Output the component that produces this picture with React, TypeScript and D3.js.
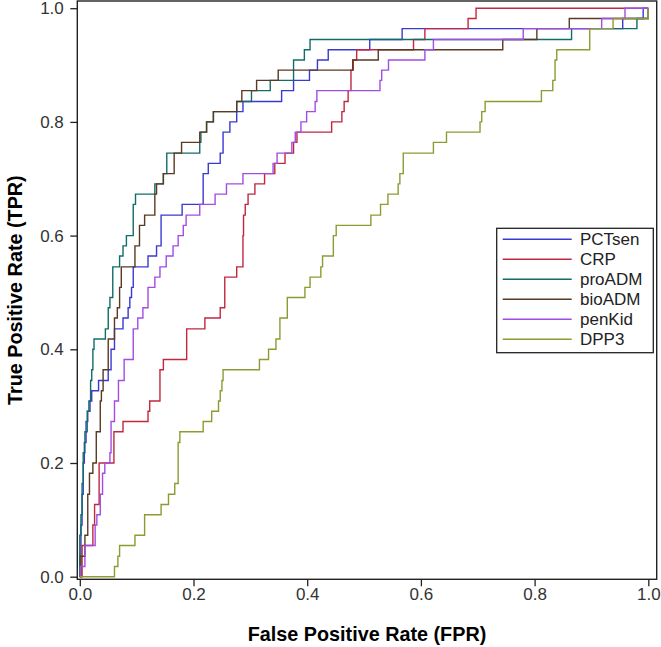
import React, { useRef, useEffect } from "react";
import * as d3 from "d3";

type Pt = [number, number];

// ROC points: [fpr, tpr], each point is the top of a vertical step
const pctsen: Pt[] = [
	[0, 0], [0.000, 0.036], [0.002, 0.091], [0.004, 0.145], [0.006, 0.200], [0.008, 0.236],
	[0.011, 0.273], [0.014, 0.291], [0.018, 0.309], [0.021, 0.327], [0.033, 0.345], [0.050, 0.364],
	[0.055, 0.400], [0.061, 0.436], [0.076, 0.455], [0.085, 0.473], [0.088, 0.491], [0.091, 0.509],
	[0.094, 0.545], [0.120, 0.564], [0.135, 0.582], [0.143, 0.636], [0.180, 0.655], [0.217, 0.709],
	[0.226, 0.727], [0.247, 0.745], [0.252, 0.782], [0.264, 0.800], [0.276, 0.818], [0.287, 0.836],
	[0.355, 0.855], [0.376, 0.873], [0.404, 0.891], [0.418, 0.909], [0.437, 0.927], [0.510, 0.945],
	[0.567, 0.964], [0.955, 0.982], [0.991, 1.000], [1, 1],
];

const crp: Pt[] = [
	[0, 0], [0.004, 0.055], [0.023, 0.091], [0.026, 0.127], [0.034, 0.200], [0.060, 0.255],
	[0.076, 0.273], [0.120, 0.291], [0.123, 0.309], [0.141, 0.364], [0.147, 0.382], [0.188, 0.436],
	[0.220, 0.455], [0.247, 0.473], [0.255, 0.527], [0.276, 0.545], [0.287, 0.600], [0.288, 0.636],
	[0.291, 0.655], [0.296, 0.673], [0.308, 0.691], [0.325, 0.709], [0.343, 0.727], [0.361, 0.745],
	[0.376, 0.764], [0.382, 0.782], [0.443, 0.800], [0.461, 0.818], [0.465, 0.836], [0.472, 0.855],
	[0.477, 0.891], [0.481, 0.909], [0.487, 0.927], [0.587, 0.945], [0.607, 0.964], [0.683, 0.982],
	[0.697, 1.000], [1, 1],
];

const proadm: Pt[] = [
	[0, 0], [0.000, 0.073], [0.002, 0.109], [0.004, 0.164], [0.006, 0.218], [0.009, 0.255],
	[0.013, 0.291], [0.016, 0.309], [0.019, 0.345], [0.021, 0.364], [0.023, 0.400], [0.025, 0.418],
	[0.045, 0.436], [0.050, 0.473], [0.053, 0.491], [0.058, 0.545], [0.070, 0.564], [0.076, 0.582],
	[0.082, 0.600], [0.094, 0.655], [0.098, 0.673], [0.132, 0.691], [0.147, 0.709], [0.153, 0.745],
	[0.211, 0.764], [0.213, 0.782], [0.223, 0.800], [0.235, 0.818], [0.276, 0.836], [0.302, 0.855],
	[0.335, 0.873], [0.376, 0.909], [0.395, 0.927], [0.405, 0.945], [0.865, 0.964], [0.980, 0.982],
	[1.000, 1.000], [1, 1],
];

const bioadm: Pt[] = [
	[0, 0], [0.002, 0.036], [0.009, 0.073], [0.014, 0.145], [0.017, 0.182], [0.023, 0.200],
	[0.029, 0.255], [0.036, 0.309], [0.038, 0.327], [0.041, 0.364], [0.050, 0.418], [0.061, 0.455],
	[0.066, 0.473], [0.070, 0.509], [0.073, 0.545], [0.097, 0.582], [0.105, 0.618], [0.114, 0.636],
	[0.132, 0.673], [0.135, 0.691], [0.147, 0.709], [0.166, 0.745], [0.179, 0.764], [0.211, 0.782],
	[0.223, 0.800], [0.235, 0.818], [0.276, 0.836], [0.285, 0.855], [0.311, 0.873], [0.349, 0.891],
	[0.480, 0.909], [0.525, 0.927], [0.744, 0.945], [0.804, 0.964], [0.861, 0.982], [1.000, 1.000],
	[1, 1],
];

const penkid: Pt[] = [
	[0, 0], [0.001, 0.018], [0.009, 0.055], [0.027, 0.091], [0.030, 0.109], [0.036, 0.145],
	[0.040, 0.182], [0.044, 0.200], [0.053, 0.218], [0.055, 0.273], [0.061, 0.309], [0.068, 0.345],
	[0.078, 0.382], [0.094, 0.436], [0.102, 0.455], [0.111, 0.473], [0.120, 0.509], [0.132, 0.527],
	[0.141, 0.545], [0.152, 0.564], [0.164, 0.582], [0.173, 0.600], [0.182, 0.618], [0.187, 0.636],
	[0.211, 0.655], [0.238, 0.673], [0.258, 0.691], [0.287, 0.709], [0.340, 0.727], [0.347, 0.745],
	[0.373, 0.764], [0.379, 0.782], [0.389, 0.800], [0.399, 0.818], [0.414, 0.836], [0.417, 0.855],
	[0.528, 0.873], [0.531, 0.891], [0.543, 0.909], [0.607, 0.927], [0.622, 0.945], [0.780, 0.964],
	[0.918, 0.982], [0.959, 1.000], [1, 1],
];

const dpp3: Pt[] = [
	[0, 0], [0.061, 0.018], [0.067, 0.036], [0.070, 0.055], [0.097, 0.073], [0.114, 0.109],
	[0.143, 0.127], [0.156, 0.145], [0.167, 0.164], [0.173, 0.236], [0.176, 0.255], [0.217, 0.273],
	[0.232, 0.291], [0.244, 0.309], [0.247, 0.327], [0.250, 0.345], [0.252, 0.364], [0.316, 0.382],
	[0.332, 0.400], [0.345, 0.418], [0.352, 0.455], [0.365, 0.491], [0.396, 0.509], [0.405, 0.527],
	[0.424, 0.545], [0.427, 0.564], [0.446, 0.600], [0.451, 0.618], [0.512, 0.636], [0.529, 0.655],
	[0.542, 0.673], [0.560, 0.691], [0.563, 0.709], [0.569, 0.745], [0.622, 0.764], [0.645, 0.782],
	[0.704, 0.800], [0.707, 0.818], [0.713, 0.836], [0.812, 0.855], [0.832, 0.873], [0.836, 0.909],
	[0.839, 0.927], [0.897, 0.964], [0.938, 0.982], [1.000, 1.000],
];

const seriesNames = ["PCTsen", "CRP", "proADM", "bioADM", "penKid", "DPP3"];
const seriesData = [pctsen, crp, proadm, bioadm, penkid, dpp3];
const seriesColors = ["#3a3ad2", "#c0283f", "#126d68", "#5a3a22", "#a24ce4", "#8f9a33"];
const tickValues = [0, 0.2, 0.4, 0.6, 0.8, 1.0];

const WIDTH = 661;
const HEIGHT = 647;
const FONT = "'Liberation Sans', Arial, sans-serif";

export default function App() {
	const svgRef = useRef<SVGSVGElement | null>(null);

	useEffect(() => {
		const frame = { left: 77.3, right: 656.7, top: 1, bottom: 579.3 };
		const x = d3.scaleLinear().domain([0, 1]).range([79.8, 648.3]);
		const y = d3.scaleLinear().domain([0, 1]).range([576.7, 8.2]);

		const svg = d3.select(svgRef.current);
		svg.selectAll("*").remove();

		const line = d3
			.line<Pt>()
			.x((d) => x(d[0]))
			.y((d) => y(d[1]))
			.curve(d3.curveStepAfter);

		svg
			.append("g")
			.selectAll("path")
			.data(seriesData)
			.enter()
			.append("path")
			.attr("d", (d) => line(d))
			.attr("fill", "none")
			.attr("stroke", (_, i) => seriesColors[i])
			.attr("stroke-width", 1.4);

		// frame
		svg
			.append("rect")
			.attr("x", frame.left)
			.attr("y", frame.top)
			.attr("width", frame.right - frame.left)
			.attr("height", frame.bottom - frame.top)
			.attr("fill", "none")
			.attr("stroke", "#222")
			.attr("stroke-width", 1.4);

		const xAxis = svg
			.append("g")
			.attr("transform", `translate(0,${frame.bottom})`)
			.call(
				d3
					.axisBottom(x)
					.tickValues(tickValues)
					.tickFormat(d3.format(".1f"))
					.tickSize(7)
					.tickPadding(2)
			);
		const yAxis = svg
			.append("g")
			.attr("transform", `translate(${frame.left},0)`)
			.call(
				d3
					.axisLeft(y)
					.tickValues(tickValues)
					.tickFormat(d3.format(".1f"))
					.tickSize(7)
					.tickPadding(6.5)
			);

		[xAxis, yAxis].forEach((g) => {
			g.select(".domain").remove();
			g.selectAll("line").attr("stroke", "#222").attr("stroke-width", 1.3);
			g.selectAll("text")
				.attr("fill", "#333")
				.style("font-family", FONT)
				.style("font-size", "17px");
		});

		svg
			.append("text")
			.attr("x", (frame.left + frame.right) / 2)
			.attr("y", 641)
			.attr("text-anchor", "middle")
			.style("font-family", FONT)
			.style("font-size", "19.8px")
			.style("font-weight", "bold")
			.text("False Positive Rate (FPR)");

		svg
			.append("text")
			.attr("transform", `translate(22,${(frame.top + frame.bottom) / 2}) rotate(-90)`)
			.attr("text-anchor", "middle")
			.style("font-family", FONT)
			.style("font-size", "19.8px")
			.style("font-weight", "bold")
			.text("True Positive Rate (TPR)");

		// legend
		const legend = svg.append("g").attr("transform", "translate(496.7,228.3)");
		legend
			.append("rect")
			.attr("width", 156.6)
			.attr("height", 124.4)
			.attr("fill", "white")
			.attr("stroke", "#222")
			.attr("stroke-width", 1.3);
		const items = legend
			.selectAll("g.item")
			.data(seriesNames)
			.enter()
			.append("g")
			.attr("class", "item")
			.attr("transform", (_, i) => `translate(0,${11 + i * 20})`);
		items
			.append("line")
			.attr("x1", 6)
			.attr("x2", 75)
			.attr("stroke", (_, i) => seriesColors[i])
			.attr("stroke-width", 1.4);
		items
			.append("text")
			.attr("x", 83.3)
			.attr("dy", "0.36em")
			.attr("fill", "#222")
			.style("font-family", FONT)
			.style("font-size", "17px")
			.text((d) => d);
	}, []);

	return (
		<svg
			ref={svgRef}
			width={WIDTH}
			height={HEIGHT}
			style={{ position: "absolute", left: 0, top: 0, background: "white" }}
		></svg>
	);
}
